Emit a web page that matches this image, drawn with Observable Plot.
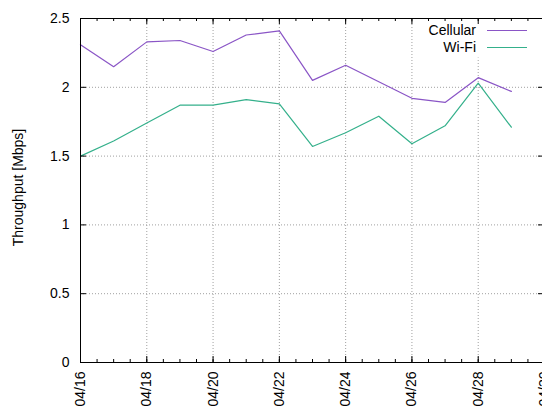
<!DOCTYPE html>
<html>
<head>
<meta charset="utf-8">
<script src="https://cdn.jsdelivr.net/npm/d3@7"></script>
<script src="https://cdn.jsdelivr.net/npm/@observablehq/plot@0.6"></script>
<style>
  html, body { margin: 0; padding: 0; background: #fff; }
  #chart svg { display: block; }
</style>
</head>
<body>
<div id="chart"></div>
<script>
// Daily mean throughput per access network
const days = ["04/16", "04/17", "04/18", "04/19", "04/20", "04/21", "04/22",
              "04/23", "04/24", "04/25", "04/26", "04/27", "04/28", "04/29"];
const cellular = [2.31, 2.15, 2.33, 2.34, 2.26, 2.38, 2.41, 2.05, 2.16, 2.04, 1.92, 1.89, 2.07, 1.97];
const wifi     = [1.50, 1.61, 1.74, 1.87, 1.87, 1.91, 1.88, 1.57, 1.67, 1.79, 1.59, 1.72, 2.03, 1.71];

const seriesNames  = ["Cellular", "Wi-Fi"];
const seriesColors = ["#8a55c6", "#34b08b"];
const seriesValues = [cellular, wifi];

const xTickLabels = ["04/16", "04/18", "04/20", "04/22", "04/24", "04/26", "04/28", "04/30"];
const yTicks = [0, 0.5, 1, 1.5, 2, 2.5];
const yLabel = "Throughput [Mbps]";

const parse = d3.utcParse("%m/%d");
const fmt = d3.utcFormat("%m/%d");

const rows = seriesNames.flatMap((name, s) =>
  days.map((d, i) => ({ date: parse(d), value: seriesValues[s][i], series: name })));

const xMajor = xTickLabels.map(parse);
const xMinor = d3.utcHour.every(12).range(xMajor[0], new Date(+xMajor[xMajor.length - 1] + 1));

const W = 542, H = 410;
const mL = 80, mT = 18, mB = 48, mR = 0;
const frameW = W - mL - mR, frameH = H - mT - mB;
const gridStyle = { stroke: "#a0a0a0", strokeOpacity: 1, strokeDasharray: "1,2", strokeWidth: 1 };

const chart = Plot.plot({
  width: W,
  height: H,
  marginLeft: mL, marginTop: mT, marginBottom: mB, marginRight: mR,
  style: { fontFamily: "'Liberation Sans', Arial, sans-serif", fontSize: "14px", color: "#000", background: "#fff" },
  x: { type: "utc", domain: [xMajor[0], xMajor[xMajor.length - 1]], range: [mL, 544] },
  y: { domain: [yTicks[0], yTicks[yTicks.length - 1]], range: [H - mB, mT] },
  color: { domain: seriesNames, range: seriesColors },
  marks: [
    // dotted grid
    Plot.gridX(xMajor.slice(1, -1), gridStyle),
    Plot.gridY(yTicks.slice(1, -1), gridStyle),
    // series
    Plot.lineY(rows, { x: "date", y: "value", z: "series", stroke: "series", strokeWidth: 1.2 }),
    // border
    Plot.ruleY([yTicks[0], yTicks[yTicks.length - 1]], { stroke: "#000", strokeWidth: 1 }),
    Plot.ruleX([xMajor[0]], { stroke: "#000", strokeWidth: 1 }),
    // inward ticks, bottom and top
    Plot.tickX(xMinor, { x: d => d, insetTop: frameH - 3, stroke: "#000" }),
    Plot.tickX(xMajor, { x: d => d, insetTop: frameH - 6, stroke: "#000" }),
    Plot.tickX(xMinor, { x: d => d, insetBottom: frameH - 3, stroke: "#000" }),
    Plot.tickX(xMajor, { x: d => d, insetBottom: frameH - 6, stroke: "#000" }),
    // inward ticks, left and right
    Plot.tickY(yTicks, { y: d => d, insetRight: frameW - 6, stroke: "#000" }),
    Plot.tickY(yTicks, { y: d => d, insetLeft: frameW - 4, stroke: "#000" }),
    // tick labels
    Plot.axisY(yTicks, { anchor: "left", tickSize: 0, tickPadding: 11, tickFormat: d => String(d), label: null }),
    Plot.axisX(xMajor, { anchor: "bottom", tickSize: 0, tickPadding: 9, tickRotate: -90, tickFormat: fmt, label: null }),
    // axis title
    Plot.text([yLabel], { text: d => d, frameAnchor: "left", textAnchor: "middle", rotate: -90, dx: -58, dy: -3, lineAnchor: "bottom" })
  ]
});

document.getElementById("chart").append(chart);

// Key in the top-right corner, on an opaque box
const svg = d3.select(chart);
svg.insert("rect", 'g[aria-label="line"]')
  .attr("x", 420).attr("y", mT + 0.5).attr("width", W - 420).attr("height", 39)
  .attr("fill", "#fff");

const key = svg.append("g")
  .attr("font-family", "'Liberation Sans', Arial, sans-serif")
  .attr("font-size", 14);
seriesNames.forEach((name, i) => {
  const cy = 30.5 + i * 17;
  key.append("text")
    .attr("x", 476).attr("y", cy).attr("dy", "0.35em")
    .attr("text-anchor", "end").attr("fill", "#000")
    .text(name);
  key.append("line")
    .attr("x1", 487).attr("x2", 527).attr("y1", cy).attr("y2", cy)
    .attr("stroke", seriesColors[i]).attr("stroke-width", 1.2);
});
</script>
</body>
</html>
